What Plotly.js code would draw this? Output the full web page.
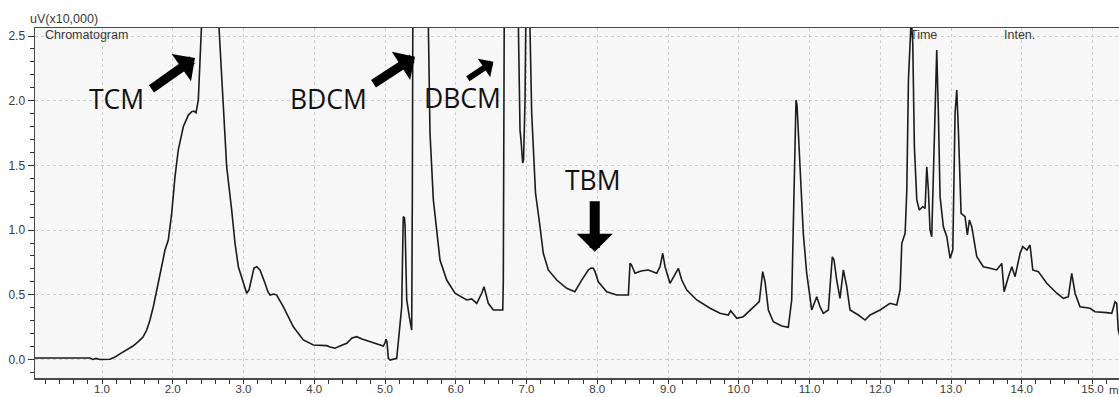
<!DOCTYPE html>
<html>
<head>
<meta charset="utf-8">
<script src="https://cdn.plot.ly/plotly-3.0.1.min.js"></script>
<style>
  html, body { margin: 0; padding: 0; background: #ffffff; }
  #chart { width: 1119px; height: 397px; }
</style>
</head>
<body>
<div id="chart"></div>
<script>
// Retention time (min) of each sampled point of the chromatogram
const retentionTime = [
  0.053, 0.208, 0.223, 0.830, 0.873, 0.915, 0.972, 1.113, 1.184, 1.254,
  1.349, 1.438, 1.513, 1.580, 1.632, 1.678, 1.725, 1.777, 1.820, 1.862,
  1.890, 1.937, 1.985, 2.032, 2.078, 2.117, 2.149, 2.220, 2.268, 2.300,
  2.329, 2.361, 2.385, 2.409, 2.428, 2.527, 2.626, 2.654, 2.714, 2.762,
  2.833, 2.880, 2.927, 2.989, 3.045, 3.078, 3.116, 3.148, 3.187, 3.233,
  3.304, 3.346, 3.375, 3.431, 3.469, 3.562, 3.704, 3.845, 3.987, 4.176,
  4.223, 4.293, 4.364, 4.459, 4.534, 4.600, 4.675, 4.788, 4.976, 5.000,
  5.014, 5.028, 5.047, 5.071, 5.165, 5.184, 5.202, 5.236, 5.247, 5.258,
  5.275, 5.283, 5.297, 5.307, 5.343, 5.377, 5.386, 5.389, 5.396, 5.594,
  5.612, 5.636, 5.683, 5.731, 5.777, 5.872, 5.989, 6.155, 6.225, 6.296,
  6.367, 6.399, 6.428, 6.460, 6.531, 6.664, 6.672, 6.682, 6.689, 6.866,
  6.884, 6.887, 6.908, 6.922, 6.946, 6.958, 6.979, 6.989, 7.014, 7.049,
  7.057, 7.073, 7.096, 7.127, 7.191, 7.237, 7.308, 7.427, 7.568, 7.683,
  7.780, 7.873, 7.912, 7.944, 7.968, 8.015, 8.133, 8.275, 8.439, 8.463,
  8.484, 8.533, 8.618, 8.722, 8.840, 8.887, 8.925, 8.958, 9.028, 9.099,
  9.146, 9.194, 9.265, 9.406, 9.594, 9.735, 9.852, 9.886, 9.971, 10.064,
  10.205, 10.290, 10.338, 10.371, 10.418, 10.488, 10.607, 10.700, 10.748, 10.781,
  10.795, 10.809, 10.823, 10.866, 10.912, 10.960, 11.031, 11.102, 11.148, 11.195,
  11.266, 11.290, 11.322, 11.346, 11.384, 11.431, 11.478, 11.526, 11.572, 11.690,
  11.785, 11.856, 11.997, 12.138, 12.233, 12.280, 12.304, 12.351, 12.375, 12.398,
  12.422, 12.431, 12.443, 12.459, 12.482, 12.516, 12.552, 12.600, 12.633, 12.657,
  12.680, 12.703, 12.727, 12.750, 12.774, 12.798, 12.821, 12.845, 12.892, 12.940,
  12.987, 13.025, 13.057, 13.081, 13.104, 13.142, 13.198, 13.231, 13.259, 13.293,
  13.364, 13.457, 13.552, 13.646, 13.717, 13.750, 13.811, 13.859, 13.905, 13.976,
  14.014, 14.071, 14.117, 14.155, 14.234, 14.353, 14.495, 14.588, 14.658, 14.706,
  14.753, 14.823, 14.965, 15.035, 15.201, 15.272, 15.318, 15.342, 15.364, 15.381
];

// Detector response (uV x 10,000) at each retention time
const intensity = [
  0.012, 0.015, 0.012, 0.012, 0.000, 0.008, 0.000, 0.002, 0.019, 0.043,
  0.073, 0.104, 0.138, 0.174, 0.228, 0.305, 0.408, 0.537, 0.666, 0.769,
  0.846, 0.923, 1.130, 1.413, 1.619, 1.735, 1.799, 1.889, 1.915, 1.920,
  1.907, 2.005, 2.315, 2.562, 2.855, 3.242, 2.855, 2.562, 2.005, 1.490,
  1.155, 0.898, 0.717, 0.614, 0.512, 0.537, 0.640, 0.707, 0.717, 0.692,
  0.589, 0.522, 0.498, 0.506, 0.498, 0.408, 0.253, 0.151, 0.112, 0.107,
  0.097, 0.087, 0.104, 0.125, 0.166, 0.176, 0.158, 0.138, 0.104, 0.128,
  0.156, 0.135, 0.009, -0.004, 0.009, 0.112, 0.202, 0.408, 0.769, 1.104,
  1.094, 1.039, 0.692, 0.460, 0.331, 0.228, 1.233, 2.562, 3.242, 3.242,
  2.562, 1.748, 1.233, 0.975, 0.769, 0.614, 0.512, 0.460, 0.468, 0.434,
  0.512, 0.563, 0.498, 0.434, 0.383, 0.383, 0.601, 2.562, 3.242, 3.242,
  2.562, 2.263, 1.773, 1.696, 1.519, 1.542, 2.005, 2.562, 3.087, 2.562,
  2.183, 1.905, 1.642, 1.287, 1.026, 0.821, 0.692, 0.614, 0.550, 0.524,
  0.614, 0.692, 0.707, 0.705, 0.679, 0.601, 0.524, 0.498, 0.498, 0.743,
  0.730, 0.666, 0.684, 0.692, 0.666, 0.717, 0.821, 0.717, 0.589, 0.666,
  0.705, 0.614, 0.537, 0.460, 0.396, 0.357, 0.344, 0.377, 0.318, 0.331,
  0.408, 0.447, 0.679, 0.601, 0.383, 0.292, 0.259, 0.249, 0.460, 1.233,
  1.773, 2.005, 1.967, 1.490, 0.975, 0.666, 0.383, 0.485, 0.408, 0.357,
  0.383, 0.563, 0.794, 0.769, 0.614, 0.473, 0.692, 0.563, 0.383, 0.344,
  0.305, 0.344, 0.383, 0.434, 0.421, 0.537, 0.898, 0.975, 1.310, 2.160,
  2.495, 2.562, 2.585, 2.444, 1.645, 1.233, 1.155, 1.181, 1.168, 1.490,
  1.310, 1.001, 0.949, 1.387, 1.903, 2.392, 1.903, 1.258, 1.026, 0.949,
  0.782, 0.846, 1.903, 2.083, 1.774, 1.130, 1.104, 0.962, 1.078, 1.026,
  0.794, 0.717, 0.705, 0.692, 0.743, 0.524, 0.640, 0.717, 0.640, 0.821,
  0.872, 0.846, 0.885, 0.692, 0.679, 0.589, 0.512, 0.473, 0.485, 0.666,
  0.512, 0.408, 0.396, 0.369, 0.362, 0.357, 0.447, 0.434, 0.228, 0.189
];

// Axis ticks
const xTickValues = [1, 2, 3, 4, 5, 6, 7, 8, 9, 10, 11, 12, 13, 14, 15];
const xTickLabels = ['1.0', '2.0', '3.0', '4.0', '5.0', '6.0', '7.0', '8.0',
                     '9.0', '10.0', '11.0', '12.0', '13.0', '14.0', '15.0'];
const yTickValues = [0, 0.5, 1.0, 1.5, 2.0, 2.5];
const yTickLabels = ['0.0', '0.5', '1.0', '1.5', '2.0', '2.5'];

// Compound labels and where their arrows point (retention time, intensity)
const compoundNames = ['TCM', 'BDCM', 'DBCM', 'TBM'];
const labelTime = [1.208, 4.208, 6.095, 7.944];
const labelLevel = [2.011, 2.010, 2.019, 1.387];
const arrowTipTime = [2.314, 5.424, 6.531, 7.964];
const arrowTipLevel = [2.330, 2.340, 2.301, 0.833];

const tickFont = { family: 'Liberation Sans, Arial, sans-serif', size: 12, color: '#3a3a3a' };
const xTickFont = { family: 'Liberation Sans, Arial, sans-serif', size: 11.5, color: '#3a3a3a' };
const noteFont = { family: 'Liberation Sans, Arial, sans-serif', size: 12.5, color: '#3a3a3a' };
const bigFont = { family: 'Open Sans, Noto Sans, sans-serif', size: 26.5, color: '#111111' };

const trace = {
  x: retentionTime,
  y: intensity,
  type: 'scatter',
  mode: 'lines',
  line: { color: '#1c1c1c', width: 1.6, shape: 'linear' },
  hoverinfo: 'x+y'
};

// Arrow tail offsets (px), shaft widths and head scale for each compound arrow
const arrowStyle = [
  { ax: -45, ay: 32, w: 9, s: 0.62 },
  { ax: -43, ay: 28, w: 9, s: 0.62 },
  { ax: -27, ay: 18, w: 6, s: 0.62 },
  { ax: 0, ay: -52, w: 10, s: 0.6 }
];

const annotations = [];
compoundNames.forEach((name, i) => {
  annotations.push({
    x: labelTime[i], y: labelLevel[i], xref: 'x', yref: 'y',
    text: name, showarrow: false, font: bigFont,
    xanchor: 'center', yanchor: 'middle'
  });
  annotations.push({
    x: arrowTipTime[i], y: arrowTipLevel[i], xref: 'x', yref: 'y',
    text: '', showarrow: true,
    ax: arrowStyle[i].ax, ay: arrowStyle[i].ay,
    arrowhead: 1, arrowsize: arrowStyle[i].s, arrowwidth: arrowStyle[i].w,
    arrowcolor: '#000000', standoff: 0
  });
});

// Header texts of the instrument printout; the time unit sits right of the last tick
annotations.push(
  { xref: 'paper', yref: 'paper', x: -0.0065, y: 1.0, xanchor: 'left', yanchor: 'bottom',
    text: 'uV(x10,000)', showarrow: false, font: noteFont },
  { xref: 'paper', yref: 'paper', x: 0.0071, y: 0.9786, xanchor: 'left', yanchor: 'middle',
    text: 'Chromatogram', showarrow: false, font: noteFont },
  { xref: 'paper', yref: 'paper', x: 0.8057, y: 0.9786, xanchor: 'left', yanchor: 'middle',
    text: 'Time', showarrow: false, font: noteFont },
  { xref: 'paper', yref: 'paper', x: 0.8918, y: 0.9786, xanchor: 'left', yanchor: 'middle',
    text: 'Inten.', showarrow: false, font: noteFont },
  { xref: 'paper', yref: 'paper', x: 0.9885, y: -0.033, xanchor: 'left', yanchor: 'middle',
    text: 'm', showarrow: false, font: xTickFont }
);

const layout = {
  width: 1119,
  height: 397,
  margin: { l: 35, r: 0, t: 28, b: 19 },
  paper_bgcolor: '#ffffff',
  plot_bgcolor: '#f7f7f7',
  showlegend: false,
  xaxis: {
    range: [0.053, 15.374],
    tickmode: 'array', tickvals: xTickValues, ticktext: xTickLabels,
    ticks: 'outside', ticklen: 4, tickwidth: 1, tickcolor: '#333333',
    tickfont: xTickFont, ticklabelstandoff: -4,
    showgrid: true, gridcolor: '#cdcdcd', gridwidth: 1, griddash: '3px,3px',
    zeroline: false,
    showline: true, linecolor: '#4a4a4a', linewidth: 1.5, mirror: true,
    minor: { tickmode: 'linear', tick0: 0, dtick: 0.2, ticks: 'outside', ticklen: 4,
             tickwidth: 1, tickcolor: '#333333', showgrid: false }
  },
  yaxis: {
    range: [-0.143, 2.562],
    tickmode: 'array', tickvals: yTickValues, ticktext: yTickLabels,
    ticks: 'outside', ticklen: 6, tickwidth: 1, tickcolor: '#333333',
    tickfont: tickFont,
    showgrid: true, gridcolor: '#cdcdcd', gridwidth: 1, griddash: '3px,3px',
    zeroline: false,
    showline: true, linecolor: '#4a4a4a', linewidth: 1.5, mirror: false,
    minor: { tickmode: 'linear', tick0: 0, dtick: 0.1, ticks: 'outside', ticklen: 4,
             tickwidth: 1, tickcolor: '#333333', showgrid: false }
  },
  annotations: annotations
};

Plotly.newPlot('chart', [trace], layout, { displayModeBar: false, staticPlot: true });
</script>
</body>
</html>
